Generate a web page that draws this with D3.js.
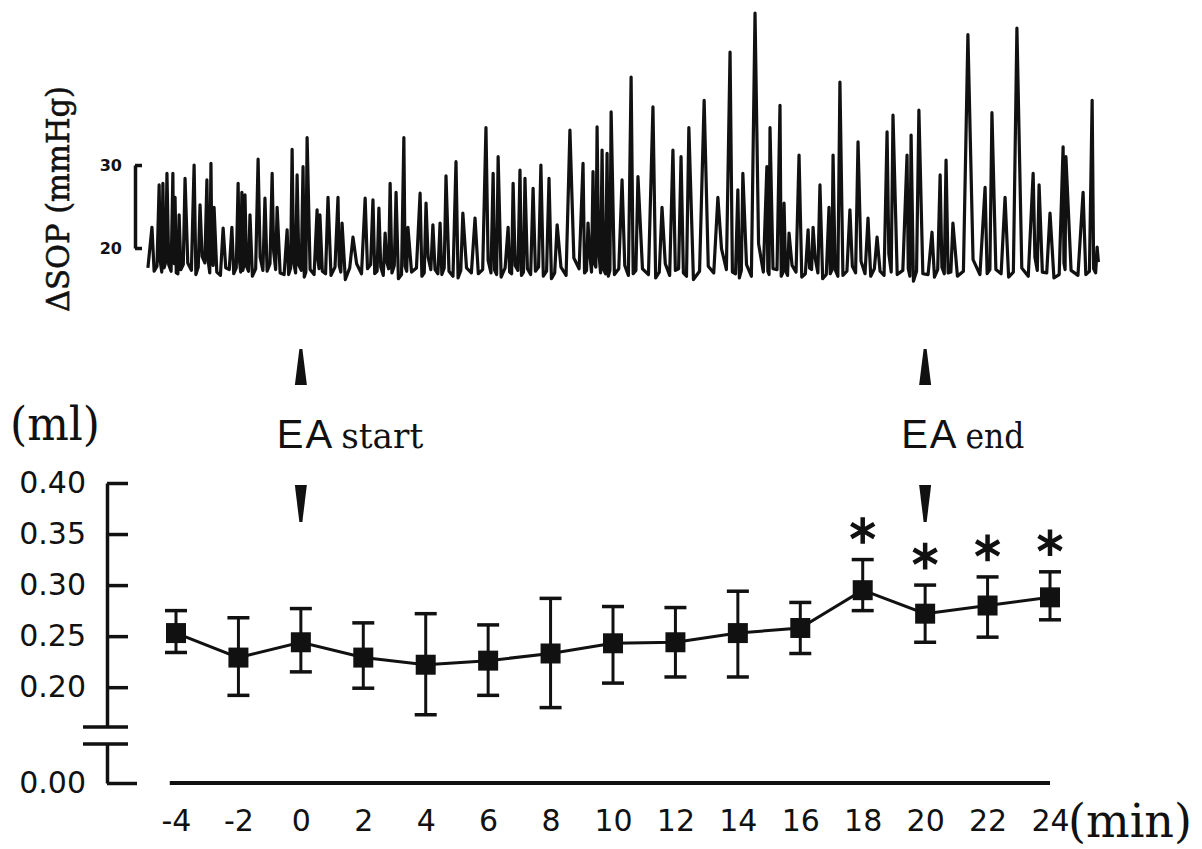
<!DOCTYPE html>
<html>
<head>
<meta charset="utf-8">
<script src="https://cdn.jsdelivr.net/npm/d3@7"></script>
<style>
  body { margin: 0; background: #fff; }
  svg { display: block; }
</style>
</head>
<body>
<div id="chart"></div>
<script>
// ---- bottom panel: volume (ml) per time point, mean with error bar ----
var minutes = [-4, -2, 0, 2, 4, 6, 8, 10, 12, 14, 16, 18, 20, 22, 24];
var meanMl  = [0.253, 0.229, 0.244, 0.229, 0.222, 0.226, 0.233, 0.243, 0.244, 0.253, 0.258, 0.295, 0.272, 0.280, 0.288];
var upperMl = [0.275, 0.268, 0.277, 0.263, 0.272, 0.261, 0.287, 0.279, 0.278, 0.294, 0.283, 0.325, 0.300, 0.308, 0.313];
var lowerMl = [0.234, 0.192, 0.215, 0.199, 0.173, 0.192, 0.180, 0.204, 0.210, 0.210, 0.233, 0.275, 0.244, 0.249, 0.266];
var starred = [18, 20, 22, 24];
var yTicks  = [0.20, 0.25, 0.30, 0.35, 0.40];

// ---- EA marks (min) ----
var eaTimes  = [0, 20];
var eaLabels = ["start", "end"];

// ---- top trace: delta SOP (mmHg), peaks ----
var tracePeakT = [-4.77,-4.54,-4.42,-4.29,-4.10,-4.03,-3.90,-3.71,-3.42,-3.23,-3.01,-2.88,-2.78,-2.49,-2.21,-2.01,-1.89,-1.79,-1.63,-1.37,-1.15,-0.92,-0.76,-0.44,-0.28,-0.12,0.07,
  0.20,0.52,0.61,0.87,1.19,1.32,1.67,2.06,2.31,2.50,2.70,2.86,3.05,3.30,3.43,3.82,4.01,4.23,4.46,4.65,4.97,5.19,
  5.58,5.93,6.16,6.32,6.64,6.80,7.02,7.18,7.44,7.69,7.95,8.21,8.62,9.04,9.20,9.36,9.49,9.65,9.81,9.94,10.29,
  10.58,10.80,11.28,11.57,11.92,12.18,12.43,12.92,13.36,13.75,14.00,14.16,14.55,14.93,15.03,15.35,15.48,
  15.64,15.96,16.25,16.41,16.63,16.92,17.05,17.27,17.59,17.85,18.17,18.46,18.78,18.97,19.42,19.55,19.80,20.22,20.48,20.67,
  20.89,21.37,21.92,22.14,22.56,22.94,23.46,23.65,24.00,24.42,24.51,25.06,25.35,25.51];
var tracePeakV = [22.5,27.6,27.8,29.0,29.0,26.1,24.0,28.4,30.0,25.2,28.2,30.2,24.9,22.4,22.5,27.8,26.7,26.4,24.0,30.7,26.0,29.0,24.9,22.2,31.9,28.8,29.8,
  33.3,24.6,24.0,26.1,26.1,23.0,21.3,26.0,25.8,24.8,21.8,27.8,26.7,33.3,22.5,26.6,25.4,22.8,23.0,28.7,30.4,24.2,
  23.6,34.5,29.0,31.0,22.5,27.8,29.4,28.4,27.2,30.0,28.4,22.8,34.2,30.2,23.0,29.2,34.6,31.8,31.4,36.4,28.2,
  40.6,28.6,37.0,24.9,31.8,31.0,34.5,37.8,26.1,43.6,27.0,29.0,48.3,29.8,34.5,37.2,25.4,
  21.8,31.2,22.2,22.5,27.6,24.9,31.2,40.0,24.6,32.8,23.6,21.3,34.0,36.0,31.2,33.6,36.6,21.9,28.8,30.6,
  23.0,45.7,27.3,36.3,26.1,46.5,29.0,27.6,24.2,32.2,31.0,26.7,37.8,20.1];
// trough level between each peak and the next
var traceTroughV = [17.2,18.4,17.6,18.0,19.5,17.0,17.4,18.2,16.8,19.0,18.5,18.8,17.1,17.6,16.9,18.7,17.3,17.8,16.6,18.9,17.2,19.6,17.0,16.8,18.3,17.9,16.5,
  17.4,18.6,17.2,16.7,17.9,16.2,18.1,17.5,16.9,17.7,18.4,17.0,16.3,17.8,17.1,16.6,18.9,17.4,16.8,17.2,16.4,17.6,
  16.9,18.5,17.3,16.5,17.1,17.9,16.7,17.5,17.2,16.6,16.3,17.7,18.8,17.0,19.6,18.2,19.8,17.4,16.6,16.8,17.9,
  16.9,17.5,16.4,18.1,17.3,17.0,16.2,17.8,19.9,17.1,16.4,18.0,20.5,17.2,17.5,16.6,17.3,
  17.9,16.5,17.6,18.8,16.3,16.9,17.4,16.7,17.8,18.4,16.6,17.2,19.3,16.8,17.5,16.0,16.9,16.5,17.7,17.0,
  16.6,18.6,16.9,17.4,16.5,17.6,18.9,17.1,16.4,18.2,17.3,16.8,17.5];
// second trough sample in each gap (base wobble)
var traceTroughV2 = [17.8,17.1,18.3,17.2,18.1,16.9,18.0,17.3,17.7,18.2,17.0,17.9,16.7,17.4,17.6,17.1,18.0,17.2,17.5,17.3,18.1,17.4,16.8,17.6,17.0,17.3,17.1,
  16.8,17.5,16.9,17.7,17.1,17.6,16.9,18.0,17.2,16.7,17.5,17.9,16.8,17.2,17.6,17.0,17.4,16.9,17.6,16.6,17.3,17.0,
  17.4,17.0,16.8,17.6,16.9,17.3,17.1,16.8,17.7,17.2,17.0,16.7,17.5,17.3,17.1,17.7,17.0,16.9,17.3,17.5,16.7,
  17.3,16.8,17.1,16.7,17.5,16.6,17.2,17.0,17.4,16.9,17.3,16.6,17.1,16.8,17.4,17.0,16.7,
  17.1,16.9,17.4,17.0,16.8,17.3,16.6,17.2,17.0,16.9,17.5,16.7,17.1,17.3,16.6,17.2,16.8,17.4,16.9,17.1,
  17.2,16.8,17.4,16.9,17.1,16.6,17.3,17.0,16.8,17.4,16.7,17.2,17.0];
var traceStart = [-4.90, 17.6];
var traceEnd   = [25.55, 18.3];
var traceScaleTicks = [20, 30];

(function () {
  "use strict";

  var width = 1202,
      height = 849;

  var svg = d3.select("#chart").append("svg")
    .attr("width", width)
    .attr("height", height)
    .style("background", "#fff");

  // shared time scale (min) for both panels
  var x = d3.scaleLinear().domain([-4, 24]).range([176, 1050]);
  // upper (broken) part of the ml axis and the stub down to zero
  var yUp = d3.scaleLinear().domain([0.161, 0.40]).range([727, 483]);
  var yLow = d3.scaleLinear().domain([0, 0.04]).range([783, 744]);
  // trace scale (mmHg)
  var yT = d3.scaleLinear().domain([20, 30]).range([248, 165]);

  var sansFont = "'DejaVu Sans', Arial, sans-serif",
      arialFont = "'Liberation Sans', Arial, sans-serif",
      serifFont = "'DejaVu Serif', 'Times New Roman', serif";

  // ---------------- top trace ----------------
  // each gap between two peaks gets two base samples, so the peaks stay narrow
  var pts = [traceStart];
  tracePeakT.forEach(function (t, i) {
    var tn = tracePeakT[i + 1], gap;
    pts.push([t, tracePeakV[i]]);
    if (tn !== undefined && traceTroughV[i] !== undefined) {
      gap = tn - t;
      pts.push([t + gap * 0.3, traceTroughV[i]]);
      pts.push([t + gap * 0.7, traceTroughV2[i]]);
    }
  });
  pts.push(traceEnd);

  svg.append("path")
    .datum(pts)
    .attr("fill", "none")
    .attr("stroke", "#111")
    .attr("stroke-width", 3.2)
    .attr("stroke-linejoin", "round")
    .attr("d", d3.line().x(function (d) { return x(d[0]); }).y(function (d) { return yT(d[1]); }));

  // calibration bar 20-30 mmHg
  var gCal = svg.append("g").attr("transform", "translate(135,0)")
    .call(d3.axisLeft(yT).tickValues(traceScaleTicks).tickSize(-7).tickSizeOuter(0).tickPadding(13));
  gCal.selectAll("path, line").attr("stroke", "#111").attr("stroke-width", 3.5);
  gCal.selectAll("text")
    .attr("font-family", sansFont).attr("font-weight", "bold")
    .attr("font-size", 16).attr("fill", "#111");

  svg.append("text")
    .attr("transform", "translate(69,199) rotate(-90)")
    .attr("text-anchor", "middle")
    .attr("font-family", serifFont)
    .attr("font-size", 32)
    .attr("textLength", 226)
    .attr("lengthAdjust", "spacingAndGlyphs")
    .attr("fill", "#111")
    .attr("stroke", "#111")
    .attr("stroke-width", 0.6)
    .text("\u0394SOP (mmHg)");

  // ---------------- EA markers ----------------
  eaTimes.forEach(function (t, i) {
    var cx = x(t);
    // arrowhead pointing up, under the trace
    svg.append("path")
      .attr("d", "M" + (cx - 1.5) + ",349 L" + (cx + 1.5) + ",349 L" + (cx + 6) + ",385 L" + (cx - 6) + ",385 Z")
      .attr("fill", "#111");
    // arrowhead pointing down, above the plot
    svg.append("path")
      .attr("d", "M" + (cx - 6) + ",485 L" + (cx + 6) + ",485 L" + (cx + 1.5) + ",522 L" + (cx - 1.5) + ",522 Z")
      .attr("fill", "#111");

    var lbl = svg.append("text")
      .attr("y", 448)
      .attr("fill", "#111");
    lbl.append("tspan")
      .attr("x", cx - 24)
      .attr("font-family", arialFont)
      .attr("font-size", 40)
      .attr("letter-spacing", 2)
      .text("EA");
    lbl.append("tspan")
      .attr("dx", 7)
      .attr("font-family", serifFont)
      .attr("font-size", 36)
      .attr("textLength", i === 0 ? 82 : 59)
      .attr("lengthAdjust", "spacingAndGlyphs")
      .text(eaLabels[i]);
  });

  // ---------------- bottom panel axes ----------------
  var gY = svg.append("g").attr("transform", "translate(107,0)")
    .call(d3.axisLeft(yUp).tickValues(yTicks).tickSize(-21).tickSizeOuter(0).tickPadding(21).tickFormat(d3.format(".2f")));
  var gY0 = svg.append("g").attr("transform", "translate(107,0)")
    .call(d3.axisLeft(yLow).tickValues([0]).tickSize(-30).tickSizeOuter(0).tickPadding(21).tickFormat(d3.format(".2f")));
  [gY, gY0].forEach(function (g) {
    g.selectAll("path, line").attr("stroke", "#111").attr("stroke-width", 3.5);
    g.selectAll("text")
      .attr("font-family", sansFont).attr("font-size", 30).attr("fill", "#111");
  });

  // axis break marks
  svg.selectAll("line.brk")
    .data([yUp.range()[0], yLow.range()[1]])
    .enter().append("line")
    .attr("class", "brk")
    .attr("x1", 83).attr("x2", 128)
    .attr("y1", function (d) { return d; })
    .attr("y2", function (d) { return d; })
    .attr("stroke", "#111").attr("stroke-width", 3.5);

  // time axis: baseline plus labels
  var gX = svg.append("g").attr("transform", "translate(0," + yLow(0) + ")")
    .call(d3.axisBottom(x).tickValues(minutes).tickSize(0).tickPadding(27)
      .tickFormat(function (d) { return String(d); }));
  gX.select(".domain").remove();
  gX.selectAll("text")
    .attr("font-family", sansFont).attr("font-size", 30).attr("fill", "#111");
  svg.append("line")
    .attr("x1", x(-4.2)).attr("x2", x(24))
    .attr("y1", yLow(0)).attr("y2", yLow(0))
    .attr("stroke", "#111").attr("stroke-width", 4);

  // unit labels
  svg.append("text")
    .attr("x", 10).attr("y", 440)
    .attr("font-family", serifFont).attr("font-size", 46)
    .attr("textLength", 90).attr("lengthAdjust", "spacingAndGlyphs")
    .attr("fill", "#111")
    .text("(ml)");
  svg.append("text")
    .attr("x", 1068).attr("y", 837)
    .attr("font-family", serifFont).attr("font-size", 46)
    .attr("textLength", 124).attr("lengthAdjust", "spacingAndGlyphs")
    .attr("fill", "#111")
    .text("(min)");

  // ---------------- data ----------------
  var rows = minutes.map(function (m, i) {
    return { t: m, mean: meanMl[i], hi: upperMl[i], lo: lowerMl[i] };
  });

  // error bars
  var gErr = svg.append("g").attr("stroke", "#111").attr("stroke-width", 3);
  gErr.selectAll("line.stem").data(rows).enter().append("line")
    .attr("class", "stem")
    .attr("x1", function (d) { return x(d.t); })
    .attr("x2", function (d) { return x(d.t); })
    .attr("y1", function (d) { return yUp(d.hi); })
    .attr("y2", function (d) { return yUp(d.lo); });
  ["hi", "lo"].forEach(function (k) {
    gErr.selectAll("line.cap-" + k).data(rows).enter().append("line")
      .attr("class", "cap-" + k)
      .attr("stroke-width", 3.5)
      .attr("x1", function (d) { return x(d.t) - 11; })
      .attr("x2", function (d) { return x(d.t) + 11; })
      .attr("y1", function (d) { return yUp(d[k]); })
      .attr("y2", function (d) { return yUp(d[k]); });
  });

  // mean line
  svg.append("path")
    .datum(rows)
    .attr("fill", "none")
    .attr("stroke", "#111")
    .attr("stroke-width", 3)
    .attr("d", d3.line().x(function (d) { return x(d.t); }).y(function (d) { return yUp(d.mean); }));

  // square markers
  svg.selectAll("path.mk").data(rows).enter().append("path")
    .attr("class", "mk")
    .attr("transform", function (d) { return "translate(" + x(d.t) + "," + yUp(d.mean) + ")"; })
    .attr("d", d3.symbol().type(d3.symbolSquare).size(400))
    .attr("fill", "#111");

  // significance asterisks
  svg.selectAll("path.star").data(rows.filter(function (d) { return starred.indexOf(d.t) >= 0; }))
    .enter().append("path")
    .attr("class", "star")
    .attr("transform", function (d) { return "translate(" + x(d.t) + "," + (yUp(d.hi) - 29) + ")"; })
    .attr("d", d3.symbol().type(d3.symbolAsterisk).size(500))
    .attr("fill", "none")
    .attr("stroke", "#111")
    .attr("stroke-width", 4.5);
}());
</script>
</body>
</html>
